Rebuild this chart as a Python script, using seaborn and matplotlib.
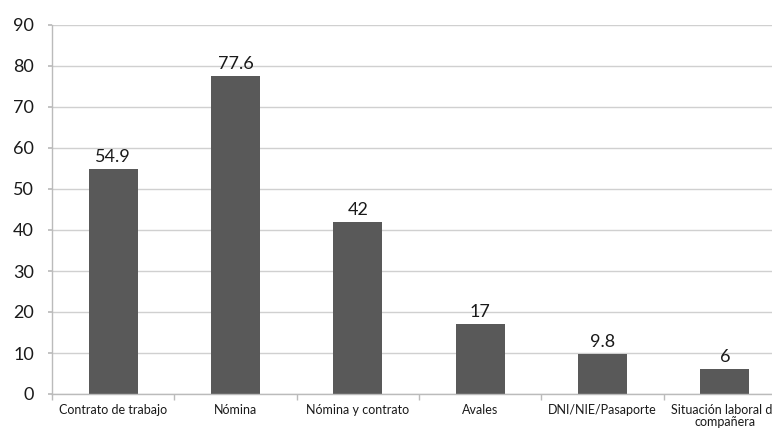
import matplotlib
matplotlib.use("Agg")
import matplotlib.pyplot as plt
import seaborn as sns
import pandas as pd
import numpy as np

categories = ["Contrato de trabajo", "Nómina", "Nómina y contrato", "Avales",
              "DNI/NIE/Pasaporte", "Situación laboral de\ncompañera"]
values = [54.9, 77.6, 42, 17, 9.8, 6]
value_labels = ["54.9", "77.6", "42", "17", "9.8", "6"]
yticks = [0, 10, 20, 30, 40, 50, 60, 70, 80, 90]

sns.set_theme(style="white")
plt.rcParams['font.family'] = ['Lato', 'DejaVu Sans']

df = pd.DataFrame({"cat": categories, "val": values})

fig = plt.figure(figsize=(7.72, 4.33), dpi=100)
ax = fig.add_axes([52/772, 39/433, (786-52)/772, (394-25)/433])

sns.barplot(data=df, x="cat", y="val", order=categories, color="#595959",
            width=0.4, saturation=1, ax=ax, edgecolor="none")

ax.set_ylim(0, 90)
ax.set_xlim(-0.5, len(categories) - 0.5)
ax.set_yticks(yticks)
ax.set_yticklabels([str(t) for t in yticks], fontsize=13, color="#1a1a1a")
ax.yaxis.grid(True, color="#d0d0d0", linewidth=1)
ax.set_axisbelow(True)
ax.set_xlabel("")
ax.set_ylabel("")

ax.tick_params(axis="x", which="major", length=0, labelsize=9, labelcolor="#1a1a1a", pad=7)
ax.set_xticks(range(len(categories)))
ax.set_xticklabels(categories, linespacing=1.0)
ax.set_xticks(np.arange(-0.5, len(categories), 1.0), minor=True)
ax.tick_params(axis="x", which="minor", length=4, color="#bbbbbb", direction="out", bottom=True)
ax.tick_params(axis="y", length=3, color="#bbbbbb", left=True, pad=10)

for s in ["top", "right"]:
    ax.spines[s].set_visible(False)
for s in ["left", "bottom"]:
    ax.spines[s].set_color("#bbbbbb")
    ax.spines[s].set_linewidth(1)

for i, (v, lab) in enumerate(zip(values, value_labels)):
    ax.annotate(lab, (i, v), xytext=(0, 3), textcoords="offset points",
                ha="center", va="bottom", fontsize=13, color="#1a1a1a")

fig.savefig("out.png", dpi=100)
